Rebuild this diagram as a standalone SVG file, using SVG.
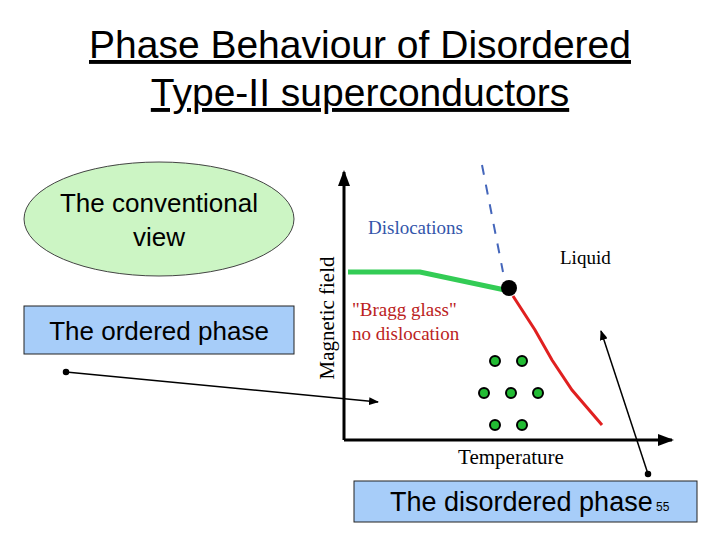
<svg xmlns="http://www.w3.org/2000/svg" width="720" height="540" viewBox="0 0 720 540">
<defs>
<marker id="ah" markerWidth="10" markerHeight="8" refX="9" refY="4" orient="auto" markerUnits="userSpaceOnUse"><path d="M0,0 L10,4 L0,8 Z" fill="#000"/></marker>
<marker id="ax" markerWidth="16" markerHeight="12" refX="14" refY="6" orient="auto" markerUnits="userSpaceOnUse"><path d="M0,0 L16,6 L0,12 Z" fill="#000"/></marker>
<style>
.s{font-family:"Liberation Sans",Arial,sans-serif;fill:#000}
.t{font-family:"Liberation Serif","Times New Roman",serif}
.g{fill:#22bb33;stroke:#000;stroke-width:2}
</style>
</defs>
<rect width="720" height="540" fill="#fff"/>
<g id="title" class="s" font-size="39" text-anchor="middle" text-decoration="underline">
<text x="360" y="58">Phase Behaviour of Disordered</text>
<text x="360" y="106">Type-II superconductors</text>
</g>
<g id="conventional">
<ellipse cx="159" cy="219" rx="135" ry="57" fill="#ccf5c4" stroke="#444" stroke-width="1"/>
<text class="s" font-size="26" text-anchor="middle"><tspan x="159" y="212">The conventional</tspan><tspan x="159" y="246">view</tspan></text>
</g>
<g id="ordered">
<rect x="24" y="306" width="270" height="48" fill="#a7cdf9" stroke="#222" stroke-width="1"/>
<text class="s" x="159" y="340" font-size="26" text-anchor="middle">The ordered phase</text>
</g>
<g id="disordered">
<rect x="354" y="481" width="343" height="41" fill="#a7cdf9" stroke="#222" stroke-width="1"/>
<text class="s" x="390" y="511" font-size="27">The disordered phase</text>
<text class="s" x="656" y="511" font-size="12">55</text>
</g>
<g id="chart">
<line x1="344" y1="440" x2="344" y2="172" stroke="#000" stroke-width="3" marker-end="url(#ax)"/>
<line x1="344" y1="440" x2="672" y2="440" stroke="#000" stroke-width="3" marker-end="url(#ax)"/>
<text class="t" x="511" y="464" font-size="21" text-anchor="middle">Temperature</text>
<text class="t" transform="translate(334,318) rotate(-90)" font-size="21" text-anchor="middle">Magnetic field</text>
<text class="t" x="368" y="234" font-size="19" fill="#3355aa">Dislocations</text>
<text class="t" x="560" y="264" font-size="19">Liquid</text>
<text class="t" font-size="19" fill="#bb2222"><tspan x="352" y="316">"Bragg glass"</tspan><tspan x="352" y="340">no dislocation</tspan></text>
<polyline points="348,272 420,272 505,290" fill="none" stroke="#33cc55" stroke-width="5"/>
<polyline points="513,296 535,330 552,360 572,390 602,425" fill="none" stroke="#e02020" stroke-width="3"/>
<line x1="482" y1="165" x2="503" y2="272" stroke="#4466bb" stroke-width="2" stroke-dasharray="10,10"/>
<circle cx="509" cy="288" r="8" fill="#000"/>
<circle class="g" cx="495" cy="361" r="5"/><circle class="g" cx="522" cy="361" r="5"/>
<circle class="g" cx="484" cy="393" r="5"/><circle class="g" cx="511" cy="393" r="5"/><circle class="g" cx="538" cy="393" r="5"/>
<circle class="g" cx="495" cy="425" r="5"/><circle class="g" cx="522" cy="425" r="5"/>
</g>
<g id="connectors" stroke="#000" stroke-width="1.5">
<circle cx="66" cy="372" r="2.5" fill="#000"/>
<line x1="66" y1="372" x2="378" y2="402" marker-end="url(#ah)"/>
<circle cx="648" cy="474" r="2.5" fill="#000"/>
<line x1="648" y1="474" x2="601" y2="331" marker-end="url(#ah)"/>
</g>
</svg>
